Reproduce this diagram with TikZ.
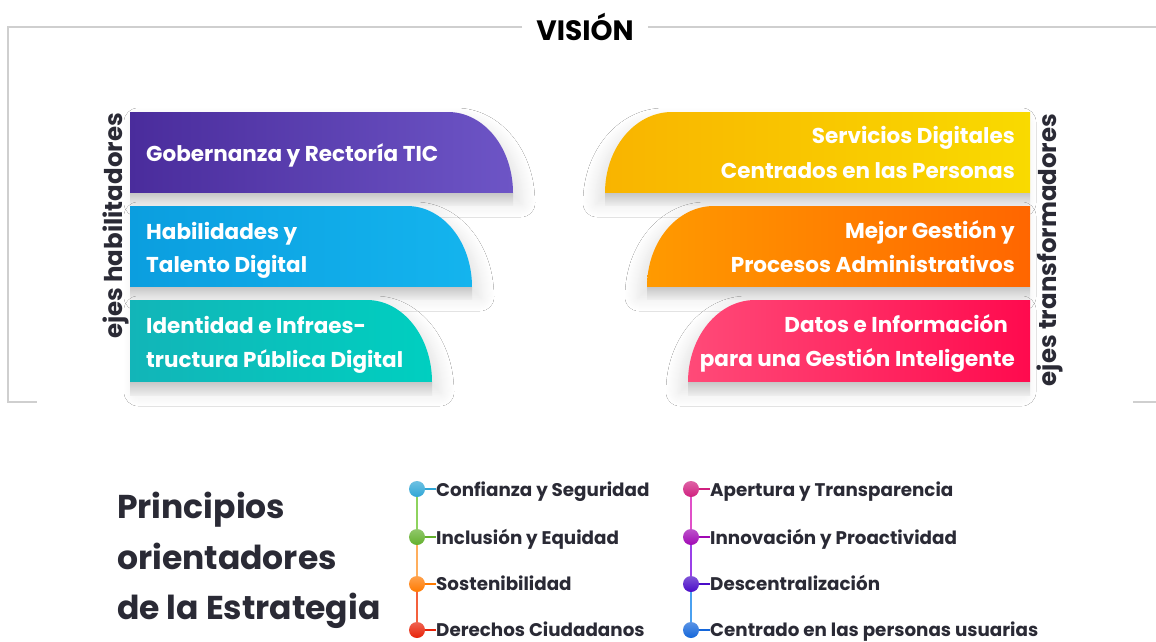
\documentclass[tikz,border=0pt]{standalone}
\usepackage{fontspec}
\setmainfont{Poppins}
\usetikzlibrary{shadows.blur}
\definecolor{framegray}{HTML}{CFCFCF}
\definecolor{txt}{HTML}{2A2A35}
\definecolor{purA}{HTML}{4A2C9C}
\definecolor{purB}{HTML}{6D55C6}
\definecolor{bluA}{HTML}{0B9EDF}
\definecolor{bluB}{HTML}{14B4EE}
\definecolor{tealA}{HTML}{12B5B8}
\definecolor{tealB}{HTML}{00CFC0}
\definecolor{yelA}{HTML}{F9B400}
\definecolor{yelB}{HTML}{F9DA00}
\definecolor{oraA}{HTML}{FF9A00}
\definecolor{oraB}{HTML}{FF6600}
\definecolor{pinA}{HTML}{FF4A78}
\definecolor{pinB}{HTML}{FF0A4E}
\definecolor{ca}{HTML}{2FA6D6}
\definecolor{cb}{HTML}{62B02C}
\definecolor{cc}{HTML}{FF7A00}
\definecolor{cd}{HTML}{E82208}
\definecolor{ce}{HTML}{D0207F}
\definecolor{cf}{HTML}{A008B4}
\definecolor{cg}{HTML}{4A0CC8}
\definecolor{ch}{HTML}{1466DA}
\definecolor{lab}{HTML}{8ED35E}
\definecolor{lbc}{HTML}{FFAE5C}
\definecolor{lcd}{HTML}{F4603C}
\definecolor{lef}{HTML}{E050C8}
\definecolor{lfg}{HTML}{9A40E8}
\definecolor{lgh}{HTML}{4AA0F0}
\tikzset{
  frameline/.style={draw=framegray, line width=2.5pt},
  bartext/.style={text=white, font=\fontsize{21.5}{24}\selectfont\bfseries, inner sep=0pt},
  strip/.style={top color=black!22, bottom color=black!7},
  barshadow/.style={blur shadow={shadow xshift=#1, shadow yshift=-10pt, shadow opacity=12, shadow blur radius=14pt, shadow blur steps=14}},
  ejes/.style={text=txt, font=\fontsize{24.5}{28}\selectfont\bfseries, rotate=90, inner sep=0pt},
  pdot/.style={circle, minimum size=16pt, inner sep=0pt, top color=#1!70!white, bottom color=#1},
  ptext/.style={text=txt, font=\fontsize{18.3}{21}\selectfont\bfseries, inner sep=0pt, anchor=base west},
  conn/.style={line width=1.5pt, draw=#1},
  headtext/.style={text=txt, font=\fontsize{33}{36}\selectfont\bfseries, inner sep=0pt, anchor=base west}
}
\begin{document}
\begin{tikzpicture}[x=1pt,y=-1pt]
\useasboundingbox[fill=white] (0,0) rectangle (1156,642);
% frame
\node[font=\fontsize{28}{30}\selectfont\bfseries, text=black, inner xsep=14pt, inner ysep=0pt] (vision) at (585,27) {VISIÓN};
\coordinate (tl) at (8,27);
\coordinate (tr) at (1160,27);
\coordinate (bl) at (8,402);
\coordinate (bls) at (37,402);
\coordinate (brs) at (1133,402);
\coordinate (br) at (1160,402);
\draw[frameline] (vision.west) -- (tl) -- (bl) -- (bls);
\draw[frameline] (vision.east) -- (tr);
\draw[frameline] (brs) -- (br);
% left bars
\path[barshadow=8pt, left color=purA, right color=purB] (130,112) -- (448,112) .. controls (484,112) and (513,148) .. (513,193) -- (130,193) -- cycle;
\path[strip] (130,193) rectangle (513,205);
\path[barshadow=8pt, left color=bluA, right color=bluB] (130,206) -- (407,206) .. controls (443,206) and (472,242) .. (472,287) -- (130,287) -- cycle;
\path[strip] (130,287) rectangle (472,299);
\path[barshadow=8pt, left color=tealA, right color=tealB] (130,300) -- (367,300) .. controls (403,300) and (432,337) .. (432,382) -- (130,382) -- cycle;
\path[strip] (130,382) rectangle (432,395);
% right bars
\path[barshadow=-8pt, left color=yelA, right color=yelB] (1030,112) -- (672,112) .. controls (635,112) and (605,148) .. (605,193) -- (1030,193) -- cycle;
\path[strip] (605,193) rectangle (1030,205);
\path[barshadow=-8pt, left color=oraA, right color=oraB] (1030,206) -- (714,206) .. controls (677,206) and (647,242) .. (647,287) -- (1030,287) -- cycle;
\path[strip] (647,287) rectangle (1030,299);
\path[barshadow=-8pt, left color=pinA, right color=pinB] (1030,300) -- (755,300) .. controls (718,300) and (688,337) .. (688,382) -- (1030,382) -- cycle;
\path[strip] (688,382) rectangle (1030,395);
% bar texts
\node[bartext, anchor=base west] (g1) at (146,161) {Gobernanza y Rectoría TIC};
\node[bartext, anchor=base west] (h1) at (146,239) {Habilidades y};
\node[bartext, anchor=base west] (h2) at (146,272) {Talento Digital};
\node[bartext, anchor=base west] (i1) at (146,333) {Identidad e Infraes-};
\node[bartext, anchor=base west] (i2) at (146,367) {tructura Pública Digital};
\node[bartext, anchor=base east] (s1) at (1015,143) {Servicios Digitales};
\node[bartext, anchor=base east] (s2) at (1015,178) {Centrados en las Personas};
\node[bartext, anchor=base east] (m1) at (1015,238) {Mejor Gestión y};
\node[bartext, anchor=base east] (m2) at (1015,272) {Procesos Administrativos};
\node[bartext, anchor=base east] (d1t) at (1008,332) {Datos e Información};
\node[bartext, anchor=base east] (d2t) at (1015,366) {para una Gestión Inteligente};
\node[ejes] (ejh) at (116,226) {ejes habilitadores};
\node[ejes] (ejt) at (1050,250) {ejes transformadores};
% principles heading
\node[headtext] (p1) at (117,518) {Principios};
\node[headtext] (p2) at (117,569) {orientadores};
\node[headtext] (p3) at (117,619) {de la Estrategia};
% left timeline
\node[pdot=ca] (a) at (417,489) {};
\node[pdot=cb] (b) at (417,537) {};
\node[pdot=cc] (c) at (417,584) {};
\node[pdot=cd] (d) at (417,630) {};
\node[ptext] (ta) at (436,496) {Confianza y Seguridad};
\node[ptext] (tb) at (436,544) {Inclusión y Equidad};
\node[ptext] (tc) at (436,590) {Sostenibilidad};
\node[ptext] (td) at (436,636) {Derechos Ciudadanos};
\draw[conn=ca] (a) -- (a -| ta.west);
\draw[conn=cb] (b) -- (b -| tb.west);
\draw[conn=cc] (c) -- (c -| tc.west);
\draw[conn=cd] (d) -- (d -| td.west);
\draw[conn=lab] (a) -- (b);
\draw[conn=lbc] (b) -- (c);
\draw[conn=lcd] (c) -- (d);
% right timeline
\node[pdot=ce] (e) at (691,489) {};
\node[pdot=cf] (f) at (691,537) {};
\node[pdot=cg] (g) at (691,584) {};
\node[pdot=ch] (h) at (691,630) {};
\node[ptext] (te) at (710,496) {Apertura y Transparencia};
\node[ptext] (tf) at (710,544) {Innovación y Proactividad};
\node[ptext] (tg) at (710,590) {Descentralización};
\node[ptext] (th) at (710,636) {Centrado en las personas usuarias};
\draw[conn=ce] (e) -- (e -| te.west);
\draw[conn=cf] (f) -- (f -| tf.west);
\draw[conn=cg] (g) -- (g -| tg.west);
\draw[conn=ch] (h) -- (h -| th.west);
\draw[conn=lef] (e) -- (f);
\draw[conn=lfg] (f) -- (g);
\draw[conn=lgh] (g) -- (h);
\end{tikzpicture}
\end{document}
